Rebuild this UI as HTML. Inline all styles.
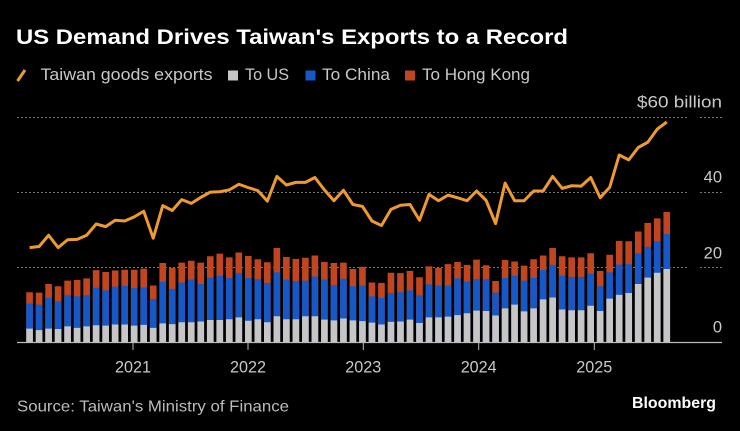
<!DOCTYPE html>
<html>
<head>
<meta charset="utf-8">
<style>
  html,body{margin:0;padding:0;background:#000;}
  svg{display:block;}
  text{font-family:"Liberation Sans",sans-serif;}
</style>
</head>
<body>
<svg width="740" height="431" viewBox="0 0 740 431" xmlns="http://www.w3.org/2000/svg">
  <rect x="0" y="0" width="740" height="431" fill="#000"/>

  <!-- Title -->
  <text x="16" y="44" font-size="21" font-weight="bold" fill="#ffffff" textLength="552" lengthAdjust="spacingAndGlyphs">US Demand Drives Taiwan's Exports to a Record</text>

  <!-- Legend -->
  <line x1="17.5" y1="81" x2="25" y2="70" stroke="#EE9A2E" stroke-width="3"/>
  <text x="40.5" y="80" font-size="17" fill="#c8c8c8" textLength="172" lengthAdjust="spacingAndGlyphs">Taiwan goods exports</text>
  <rect x="228" y="70.5" width="10" height="10" fill="#c6c6c6"/>
  <text x="245" y="80" font-size="17" fill="#c8c8c8" textLength="44" lengthAdjust="spacingAndGlyphs">To US</text>
  <rect x="305.5" y="70.5" width="10" height="10" fill="#1658C6"/>
  <text x="322" y="80" font-size="17" fill="#c8c8c8" textLength="68" lengthAdjust="spacingAndGlyphs">To China</text>
  <rect x="405" y="70.5" width="10" height="10" fill="#C1461F"/>
  <text x="422" y="80" font-size="17" fill="#c8c8c8" textLength="108" lengthAdjust="spacingAndGlyphs">To Hong Kong</text>

  <!-- Gridlines -->
  <g stroke="#777" stroke-width="1" stroke-dasharray="2,2">
    <line x1="17" y1="117.5" x2="688" y2="117.5"/>
    <line x1="700" y1="117.5" x2="722" y2="117.5"/>
    <line x1="17" y1="192.5" x2="688" y2="192.5"/>
    <line x1="700" y1="192.5" x2="722" y2="192.5"/>
    <line x1="17" y1="267.5" x2="688" y2="267.5"/>
    <line x1="700" y1="267.5" x2="722" y2="267.5"/>
  </g>

  <!-- Y labels -->
  <g font-size="16.5" fill="#c8c8c8" text-anchor="end">
    <text x="722" y="107.5" textLength="85" lengthAdjust="spacingAndGlyphs">$60 billion</text>
    <text x="722" y="182.7">40</text>
    <text x="722" y="258.3">20</text>
    <text x="722" y="332.5">0</text>
  </g>

  <!-- Bars -->
  <g transform="translate(26.25,342.5) scale(9.51,-3.75)">
    <path fill="#C1461F" d="M0 0h.7v13.4h-.7zM1 0h.7v13.3h-.7zM2 0h.7v15.6h-.7zM3 0h.7v15h-.7zM4 0h.7v16.5h-.7zM5 0h.7v16.7h-.7zM6 0h.7v17.1h-.7zM7 0h.7v19.3h-.7zM8 0h.7v18.8h-.7zM9 0h.7v19.2h-.7zM10 0h.7v19.4h-.7zM11 0h.7v19.4h-.7zM12 0h.7v19.7h-.7zM13 0h.7v15.2h-.7zM14 0h.7v21.2h-.7zM15 0h.7v19.9h-.7zM16 0h.7v21.3h-.7zM17 0h.7v21.8h-.7zM18 0h.7v21.3h-.7zM19 0h.7v23h-.7zM20 0h.7v23.7h-.7zM21 0h.7v22.7h-.7zM22 0h.7v24h-.7zM23 0h.7v23.1h-.7zM24 0h.7v22.2h-.7zM25 0h.7v21.4h-.7zM26 0h.7v25.2h-.7zM27 0h.7v22.8h-.7zM28 0h.7v22.3h-.7zM29 0h.7v22.6h-.7zM30 0h.7v23.2h-.7zM31 0h.7v21.5h-.7zM32 0h.7v21.2h-.7zM33 0h.7v21.3h-.7zM34 0h.7v19.6h-.7zM35 0h.7v20.2h-.7zM36 0h.7v16h-.7zM37 0h.7v15.9h-.7zM38 0h.7v18.6h-.7zM39 0h.7v18.5h-.7zM40 0h.7v19.1h-.7zM41 0h.7v17.4h-.7zM42 0h.7v20.3h-.7zM43 0h.7v19.9h-.7zM44 0h.7v20.9h-.7zM45 0h.7v21.5h-.7zM46 0h.7v20.7h-.7zM47 0h.7v22.1h-.7zM48 0h.7v20.6h-.7zM49 0h.7v16.4h-.7zM50 0h.7v22h-.7zM51 0h.7v21.6h-.7zM52 0h.7v20.5h-.7zM53 0h.7v22.2h-.7zM54 0h.7v23.2h-.7zM55 0h.7v25.2h-.7zM56 0h.7v23h-.7zM57 0h.7v22.7h-.7zM58 0h.7v22.7h-.7zM59 0h.7v23.8h-.7zM60 0h.7v19.1h-.7zM61 0h.7v23.4h-.7zM62 0h.7v27.1h-.7zM63 0h.7v27h-.7zM64 0h.7v29.6h-.7zM65 0h.7v31.9h-.7zM66 0h.7v33.1h-.7zM67 0h.7v34.8h-.7z"/>
    <path fill="#1658C6" d="M0 0h.7v10.4h-.7zM1 0h.7v10.1h-.7zM2 0h.7v11.9h-.7zM3 0h.7v11h-.7zM4 0h.7v12.6h-.7zM5 0h.7v12.3h-.7zM6 0h.7v12.6h-.7zM7 0h.7v14.6h-.7zM8 0h.7v13.9h-.7zM9 0h.7v14.9h-.7zM10 0h.7v15.1h-.7zM11 0h.7v14.5h-.7zM12 0h.7v14.7h-.7zM13 0h.7v11.6h-.7zM14 0h.7v16.2h-.7zM15 0h.7v14.3h-.7zM16 0h.7v16h-.7zM17 0h.7v16.8h-.7zM18 0h.7v15.6h-.7zM19 0h.7v17.3h-.7zM20 0h.7v17.8h-.7zM21 0h.7v17.2h-.7zM22 0h.7v18.5h-.7zM23 0h.7v17.2h-.7zM24 0h.7v16.9h-.7zM25 0h.7v15.9h-.7zM26 0h.7v18.7h-.7zM27 0h.7v16.8h-.7zM28 0h.7v16.4h-.7zM29 0h.7v16.5h-.7zM30 0h.7v17.6h-.7zM31 0h.7v16.8h-.7zM32 0h.7v15.3h-.7zM33 0h.7v17h-.7zM34 0h.7v15h-.7zM35 0h.7v15.2h-.7zM36 0h.7v12.3h-.7zM37 0h.7v11.9h-.7zM38 0h.7v13.2h-.7zM39 0h.7v13.4h-.7zM40 0h.7v13.9h-.7zM41 0h.7v12.6h-.7zM42 0h.7v15.5h-.7zM43 0h.7v15.2h-.7zM44 0h.7v15.2h-.7zM45 0h.7v17.1h-.7zM46 0h.7v16.3h-.7zM47 0h.7v16.9h-.7zM48 0h.7v16.9h-.7zM49 0h.7v13.3h-.7zM50 0h.7v17.2h-.7zM51 0h.7v17.8h-.7zM52 0h.7v16.5h-.7zM53 0h.7v17.2h-.7zM54 0h.7v19.3h-.7zM55 0h.7v20.7h-.7zM56 0h.7v17.8h-.7zM57 0h.7v17.5h-.7zM58 0h.7v17.5h-.7zM59 0h.7v18.4h-.7zM60 0h.7v15h-.7zM61 0h.7v18.7h-.7zM62 0h.7v20.8h-.7zM63 0h.7v20.9h-.7zM64 0h.7v23.8h-.7zM65 0h.7v25.5h-.7zM66 0h.7v27h-.7zM67 0h.7v28.9h-.7z"/>
    <path fill="#c6c6c6" d="M0 0h.7v3.7h-.7zM1 0h.7v3.3h-.7zM2 0h.7v3.7h-.7zM3 0h.7v3.6h-.7zM4 0h.7v4.3h-.7zM5 0h.7v3.9h-.7zM6 0h.7v4.3h-.7zM7 0h.7v4.6h-.7zM8 0h.7v4.5h-.7zM9 0h.7v4.8h-.7zM10 0h.7v4.8h-.7zM11 0h.7v4.5h-.7zM12 0h.7v4.7h-.7zM13 0h.7v3.9h-.7zM14 0h.7v5.1h-.7zM15 0h.7v4.9h-.7zM16 0h.7v5.4h-.7zM17 0h.7v5.4h-.7zM18 0h.7v5.6h-.7zM19 0h.7v6h-.7zM20 0h.7v6h-.7zM21 0h.7v6.2h-.7zM22 0h.7v6.7h-.7zM23 0h.7v5.8h-.7zM24 0h.7v6.2h-.7zM25 0h.7v5.4h-.7zM26 0h.7v7h-.7zM27 0h.7v6.2h-.7zM28 0h.7v6.2h-.7zM29 0h.7v7h-.7zM30 0h.7v7h-.7zM31 0h.7v6.1h-.7zM32 0h.7v5.9h-.7zM33 0h.7v6.4h-.7zM34 0h.7v5.9h-.7zM35 0h.7v5.7h-.7zM36 0h.7v5.3h-.7zM37 0h.7v4.8h-.7zM38 0h.7v5.5h-.7zM39 0h.7v5.6h-.7zM40 0h.7v6.1h-.7zM41 0h.7v5.2h-.7zM42 0h.7v6.7h-.7zM43 0h.7v6.7h-.7zM44 0h.7v6.9h-.7zM45 0h.7v7.3h-.7zM46 0h.7v7.8h-.7zM47 0h.7v8.5h-.7zM48 0h.7v8.4h-.7zM49 0h.7v7.2h-.7zM50 0h.7v9.1h-.7zM51 0h.7v10.1h-.7zM52 0h.7v8.3h-.7zM53 0h.7v9.1h-.7zM54 0h.7v11.5h-.7zM55 0h.7v12h-.7zM56 0h.7v8.8h-.7zM57 0h.7v8.6h-.7zM58 0h.7v8.6h-.7zM59 0h.7v9.8h-.7zM60 0h.7v8.4h-.7zM61 0h.7v11.7h-.7zM62 0h.7v12.7h-.7zM63 0h.7v13.2h-.7zM64 0h.7v15.6h-.7zM65 0h.7v17.3h-.7zM66 0h.7v18.6h-.7zM67 0h.7v19.6h-.7z"/>
  </g>

  <!-- Line -->
  <g transform="translate(29.6,342.5) scale(9.51,-3.75)">
    <polyline fill="none" stroke="#EE9A2E" stroke-width="3" stroke-linejoin="round" stroke-linecap="butt" vector-effect="non-scaling-stroke"
      points="0,25.3 1,25.6 2,28.6 3,25.3 4,27.4 5,27.5 6,28.6 7,31.6 8,30.9 9,32.6 10,32.4 11,33.5 12,35 13,27.8 14,36.5 15,35.2 16,38.1 17,37.1 18,38.7 19,40.1 20,40.2 21,40.7 22,42.2 23,41.3 24,40.5 25,37.7 26,44.3 27,42 28,42.7 29,42.7 30,44 31,40.7 32,37.8 33,40.6 34,36.8 35,36.3 36,32.4 37,31.2 38,35.5 39,36.6 40,36.8 41,32.6 42,39.5 43,37.8 44,39.3 45,38.6 46,37.8 47,40.4 48,37.9 49,31.7 50,42.5 51,37.8 52,37.8 53,40.4 54,40.4 55,44.3 56,41.1 57,41.8 58,41.7 59,44 60,38.6 61,41.4 62,50 63,48.7 64,52 65,53.4 66,56.9 67,58.8"/>
  </g>

  <!-- X axis -->
  <line x1="17" y1="342.5" x2="722" y2="342.5" stroke="#bbbbbb" stroke-width="1.2"/>
  <g stroke="#bbbbbb" stroke-width="1">
    <line x1="133" y1="342.5" x2="133" y2="350"/>
    <line x1="248" y1="342.5" x2="248" y2="350"/>
    <line x1="363.3" y1="342.5" x2="363.3" y2="350"/>
    <line x1="478.7" y1="342.5" x2="478.7" y2="350"/>
    <line x1="594.3" y1="342.5" x2="594.3" y2="350"/>
  </g>
  <g font-size="16.5" fill="#c8c8c8" text-anchor="middle">
    <text x="133" y="372.5" textLength="36" lengthAdjust="spacingAndGlyphs">2021</text>
    <text x="248" y="372.5" textLength="36" lengthAdjust="spacingAndGlyphs">2022</text>
    <text x="363.3" y="372.5" textLength="36" lengthAdjust="spacingAndGlyphs">2023</text>
    <text x="478.7" y="372.5" textLength="36" lengthAdjust="spacingAndGlyphs">2024</text>
    <text x="594.3" y="372.5" textLength="36" lengthAdjust="spacingAndGlyphs">2025</text>
  </g>

  <!-- Footer -->
  <text x="17" y="411.5" font-size="16" fill="#bbbbbb" textLength="272" lengthAdjust="spacingAndGlyphs">Source: Taiwan's Ministry of Finance</text>
  <text x="632" y="408" font-size="16" font-weight="bold" fill="#ffffff" textLength="84" lengthAdjust="spacingAndGlyphs">Bloomberg</text>
</svg>
</body>
</html>
